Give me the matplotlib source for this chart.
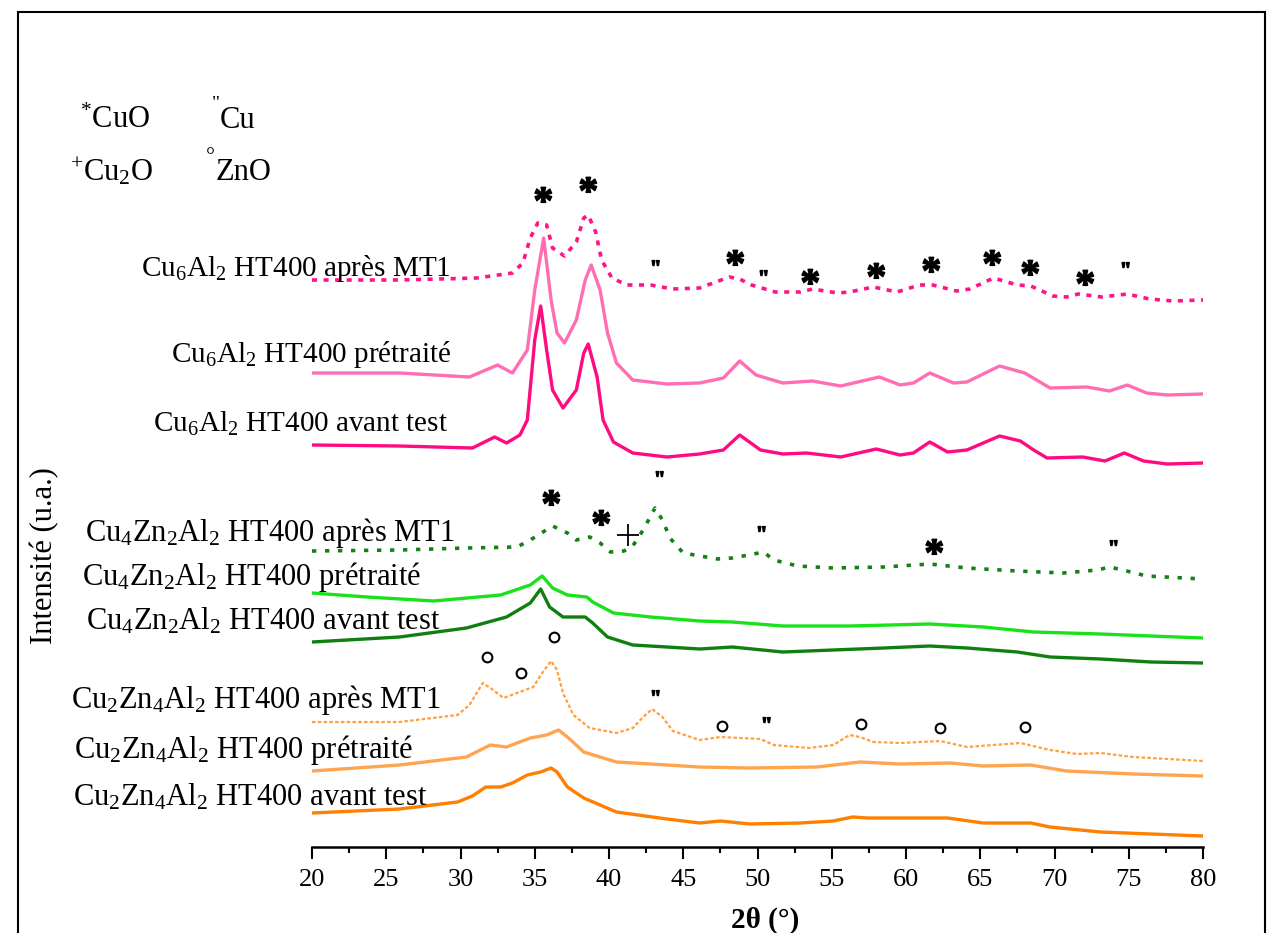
import matplotlib
matplotlib.use('Agg')
import matplotlib.pyplot as plt
from matplotlib.patches import Rectangle
from matplotlib.ticker import MultipleLocator
from matplotlib.textpath import TextPath
from matplotlib.font_manager import FontProperties
from matplotlib.path import Path

plt.rcParams['font.family'] = ['Liberation Serif', 'DejaVu Serif']
plt.rcParams['mathtext.fontset'] = 'custom'
plt.rcParams['mathtext.rm'] = 'Liberation Serif'
plt.rcParams['mathtext.it'] = 'Liberation Serif:italic'
plt.rcParams['mathtext.bf'] = 'Liberation Serif:bold'

# ---- Cu6Al2 HT400 ----
tt_cu6_avant = [20, 25.9, 30.8, 32.3, 33.1, 34.0, 34.5, 35.0, 35.4, 35.8, 36.2, 36.9, 37.8, 38.3,
                38.6, 39.2, 39.6, 40.3, 41.6, 43.9, 46.1, 47.7, 48.8, 50.2, 51.7, 53.3, 55.6, 58.0,
                59.6, 60.5, 61.6, 62.8, 64.1, 66.3, 67.7, 68.6, 69.5, 71.9, 73.4, 74.7, 76.0, 77.6, 80.0]
i_cu6_avant = [402, 401, 399, 410, 404, 412, 427, 507, 541, 497, 457, 439, 457, 494,
               503, 470, 427, 405, 394, 390, 393, 397, 412, 397, 393, 394, 390, 398,
               392, 394, 405, 395, 397, 411, 406, 397, 389, 390, 386, 394, 386, 383, 384]

tt_cu6_pret = [20, 25.9, 30.6, 32.5, 33.5, 34.5, 35.0, 35.6, 36.1, 36.5, 37.0, 37.8, 38.4, 38.8,
               39.4, 39.9, 40.5, 41.6, 43.9, 46.1, 47.7, 48.8, 49.9, 51.7, 53.7, 55.6, 58.2, 59.6,
               60.5, 61.6, 63.2, 64.1, 66.3, 68.0, 69.7, 72.2, 73.7, 74.9, 76.2, 77.6, 80.0]
i_cu6_pret = [474, 474, 470, 482, 474, 497, 557, 609, 547, 514, 504, 527, 567, 582,
              557, 514, 484, 467, 463, 464, 469, 486, 472, 464, 466, 461, 470, 462,
              464, 474, 464, 465, 481, 474, 459, 460, 456, 462, 454, 452, 453]

tt_cu6_mt1 = [20, 25.9, 31.1, 33.5, 34.2, 34.7, 35.2, 35.8, 36.2, 37.0, 37.8, 38.3, 38.6, 39.1,
              39.5, 40.2, 41.2, 42.8, 44.3, 46.1, 48.1, 48.8, 49.6, 51.2, 52.9, 53.7, 55.4, 56.2,
              57.8, 59.4, 60.9, 61.8, 63.4, 64.3, 65.9, 67.5, 68.4, 69.9, 70.8, 71.6, 73.2, 74.9,
              76.4, 78.0, 80.0]
i_cu6_mt1 = [567, 567, 569, 574, 584, 609, 624, 622, 599, 591, 605, 629, 632, 615,
             587, 569, 562, 562, 558, 559, 570, 568, 562, 555, 555, 558, 554, 555,
             560, 555, 562, 562, 556, 558, 569, 562, 561, 551, 550, 553, 550, 553,
             548, 546, 547]

# ---- Cu4Zn2Al2 HT400 ----
tt_cu4_avant = [20, 25.9, 30.4, 33.1, 34.7, 35.4, 36.0, 36.9, 38.4, 38.9, 39.9, 41.6, 43.9, 46.1,
                48.3, 51.7, 55.1, 58.5, 61.6, 64.1, 67.5, 69.7, 73.1, 76.5, 80.0]
i_cu4_avant = [205, 210, 219, 230, 244, 258, 240, 230, 230, 224, 210, 202, 200, 198,
               200, 195, 197, 199, 201, 199, 195, 190, 188, 185, 184]

tt_cu4_pret = [20, 23.7, 28.2, 32.7, 34.7, 35.5, 36.2, 37.2, 38.5, 38.9, 40.3, 42.8, 46.1, 48.3,
               51.7, 56.2, 61.6, 65.2, 68.6, 73.1, 76.5, 80.0]
i_cu4_pret = [254, 250, 246, 252, 262, 271, 259, 252, 250, 245, 234, 230, 226, 225,
              221, 221, 223, 220, 215, 213, 211, 209]

tt_cu4_mt1 = [20, 25.9, 30.4, 33.8, 34.7, 36.2, 37.2, 37.8, 38.7, 39.4, 40.1, 41.0, 41.6, 42.3,
              43.1, 43.6, 44.1, 45.0, 47.3, 48.3, 49.4, 50.4, 51.1, 52.7, 55.1, 58.5, 61.6, 64.1,
              67.5, 70.6, 72.9, 73.7, 74.6, 76.2, 80.0]
i_cu4_mt1 = [296, 297, 299, 300, 307, 321, 314, 307, 310, 304, 295, 296, 301, 317,
             339, 327, 309, 294, 288, 289, 292, 295, 287, 281, 279, 280, 283, 279,
             276, 274, 277, 280, 277, 271, 268]

# ---- Cu2Zn4Al2 HT400 ----
tt_cu2_avant = [20, 25.9, 29.8, 30.8, 31.7, 32.7, 33.5, 34.5, 35.4, 36.1, 36.5, 37.2, 38.3, 40.5,
                43.9, 46.1, 47.5, 49.5, 52.9, 55.1, 56.4, 57.4, 59.6, 62.8, 65.2, 68.4, 69.7, 73.1,
                76.5, 80.0]
i_cu2_avant = [34, 38, 45, 51, 60, 60, 64, 72, 75, 79, 75, 60, 49, 35,
               28, 24, 26, 23, 24, 26, 30, 29, 29, 29, 24, 24, 20, 15,
               13, 11]

tt_cu2_pret = [20, 25.9, 30.4, 32.0, 33.1, 34.7, 35.8, 36.6, 37.2, 38.3, 40.5, 43.9, 46.1, 49.5,
               54.0, 56.9, 59.6, 63.0, 65.2, 68.4, 70.8, 75.3, 80.0]
i_cu2_pret = [76, 82, 90, 102, 100, 109, 112, 117, 110, 95, 85, 82, 80, 79,
              80, 85, 83, 84, 81, 82, 76, 73, 71]

tt_cu2_mt1 = [20, 25.9, 29.8, 30.6, 31.5, 32.2, 32.9, 33.8, 34.9, 35.5, 36.1, 36.5, 36.9, 37.6,
              38.7, 40.5, 41.6, 42.3, 42.9, 43.6, 44.3, 46.1, 47.5, 50.2, 51.1, 53.5, 55.1, 56.2,
              56.9, 57.8, 59.6, 62.3, 64.1, 67.7, 69.7, 71.5, 73.1, 75.3, 80.0]
i_cu2_mt1 = [125, 125, 132, 142, 164, 157, 149, 154, 160, 174, 186, 177, 154, 132,
             119, 114, 119, 130, 138, 130, 116, 107, 110, 108, 102, 99, 102, 112,
             110, 105, 104, 106, 100, 104, 97, 93, 94, 90, 86]

# ---- phase markers (2theta, height) ----
cuo_tt = [35.5, 38.5, 48.4, 53.5, 57.9, 61.6, 65.7, 68.3, 72.0, 36.0, 39.4, 61.8]
cuo_i = [647, 657, 584, 565, 571, 577, 584, 574, 564, 344, 324, 295]
cu_tt = [43.0, 50.3, 74.7, 43.3, 50.2, 73.9, 43.0, 50.5]
cu_i = [580, 570, 578, 369, 314, 300, 150, 123]
cu2o_tt = [41.3]
cu2o_i = [312]
zno_tt = [31.8, 34.1, 36.3, 47.6, 57.0, 62.3, 68.0]
zno_i = [190, 174, 210, 121, 123, 119, 120]


def glyph_marker(ch):
    p = TextPath((0, 0), ch, size=10, prop=FontProperties(family='Liberation Serif', weight='bold'))
    v = p.vertices.copy()
    v -= (v.min(axis=0) + v.max(axis=0)) / 2
    return Path(v, p.codes)


W, H = 1268, 933
fig = plt.figure(figsize=(W / 100, H / 100), dpi=100)
ax = fig.add_axes([312 / W, (H - 847) / H, (1203 - 312) / W, (847 - 20) / H])
ax.set_xlim(20, 80)
ax.set_ylim(0, 827)

dot_pink = (0, (1.4, 1.8))
dot_green = (0, (1.2, 2.4))
dot_orange = (0, (1.6, 1.0))

ax.plot(tt_cu6_avant, i_cu6_avant, color='#FF0A80', lw=2.4)
ax.plot(tt_cu6_pret, i_cu6_pret, color='#FF6EB4', lw=2.4)
ax.plot(tt_cu6_mt1, i_cu6_mt1, color='#FF1488', lw=2.6, ls=dot_pink)
ax.plot(tt_cu4_avant, i_cu4_avant, color='#0F800F', lw=2.4)
ax.plot(tt_cu4_pret, i_cu4_pret, color='#1AE21A', lw=2.4)
ax.plot(tt_cu4_mt1, i_cu4_mt1, color='#158015', lw=2.6, ls=dot_green)
ax.plot(tt_cu2_avant, i_cu2_avant, color='#FF8000', lw=2.4)
ax.plot(tt_cu2_pret, i_cu2_pret, color='#FFA550', lw=2.4)
ax.plot(tt_cu2_mt1, i_cu2_mt1, color='#FFA040', lw=1.6, ls=dot_orange)

ax.plot(cuo_tt, cuo_i, ls='none', marker=glyph_marker('*'), ms=19, color='black')
ax.plot(cu_tt, cu_i, ls='none', marker=glyph_marker('"'), ms=10, color='black')
ax.plot(cu2o_tt, cu2o_i, ls='none', marker='+', ms=16, mew=1.3, color='black')
ax.plot(zno_tt, zno_i, ls='none', marker='o', ms=7, mew=1.5, mfc='none', mec='black')

labels = [
    (8.5, 579, r'Cu$_\mathregular{6}$Al$_\mathregular{2}$ HT400 après MT1', 21),
    (10.5, 492, r'Cu$_\mathregular{6}$Al$_\mathregular{2}$ HT400 prétraité', 21),
    (9.3, 423, r'Cu$_\mathregular{6}$Al$_\mathregular{2}$ HT400 avant test', 21),
    (4.7, 314, r'Cu$_\mathregular{4}$Zn$_\mathregular{2}$Al$_\mathregular{2}$ HT400 après MT1', 22),
    (4.5, 270, r'Cu$_\mathregular{4}$Zn$_\mathregular{2}$Al$_\mathregular{2}$ HT400 prétraité', 22),
    (4.8, 226, r'Cu$_\mathregular{4}$Zn$_\mathregular{2}$Al$_\mathregular{2}$ HT400 avant test', 22),
    (3.8, 147, r'Cu$_\mathregular{2}$Zn$_\mathregular{4}$Al$_\mathregular{2}$ HT400 après MT1', 22),
    (4.0, 97, r'Cu$_\mathregular{2}$Zn$_\mathregular{4}$Al$_\mathregular{2}$ HT400 prétraité', 22),
    (3.9, 50, r'Cu$_\mathregular{2}$Zn$_\mathregular{4}$Al$_\mathregular{2}$ HT400 avant test', 22),
]
for x, y, s, fs in labels:
    ax.text(x, y, s, fontsize=fs, ha='left', va='center', clip_on=False)

# phase legend
fig.text(80 / W, 1 - 120 / H, r'$^\mathregular{*}$CuO', fontsize=22, va='center')
fig.text(212 / W, 1 - 104 / H, '"', fontsize=14, va='center')
fig.text(220 / W, 1 - 120 / H, 'Cu', fontsize=22, va='center')
fig.text(70 / W, 1 - 172 / H, r'$^\mathregular{+}$Cu$_\mathregular{2}$O', fontsize=22, va='center')
fig.text(206 / W, 1 - 158 / H, '°', fontsize=16, va='center')
fig.text(216 / W, 1 - 172 / H, 'ZnO', fontsize=22, va='center')

for side in ['left', 'right', 'top']:
    ax.spines[side].set_visible(False)
ax.spines['bottom'].set_linewidth(1.8)
ax.set_yticks([])
ax.xaxis.set_major_locator(MultipleLocator(5))
ax.xaxis.set_minor_locator(MultipleLocator(2.5))
ax.tick_params(axis='x', which='major', direction='out', length=8.5, width=1.5, labelsize=19, pad=7)
ax.tick_params(axis='x', which='minor', direction='out', length=4.5, width=1.5)

fig.text(765 / W, 1 - 920 / H, '2θ (°)', fontsize=21, fontweight='bold', ha='center', va='center')
fig.text(45 / W, 1 - 556 / H, 'Intensité (u.a.)', fontsize=22, rotation=90, ha='center', va='center')

fig.patches.append(Rectangle((18 / W, -0.01), (1265 - 18) / W, (H - 12) / H + 0.01,
                             transform=fig.transFigure, fill=False, lw=1.5, color='black'))

fig.savefig('out.png', dpi=100)
